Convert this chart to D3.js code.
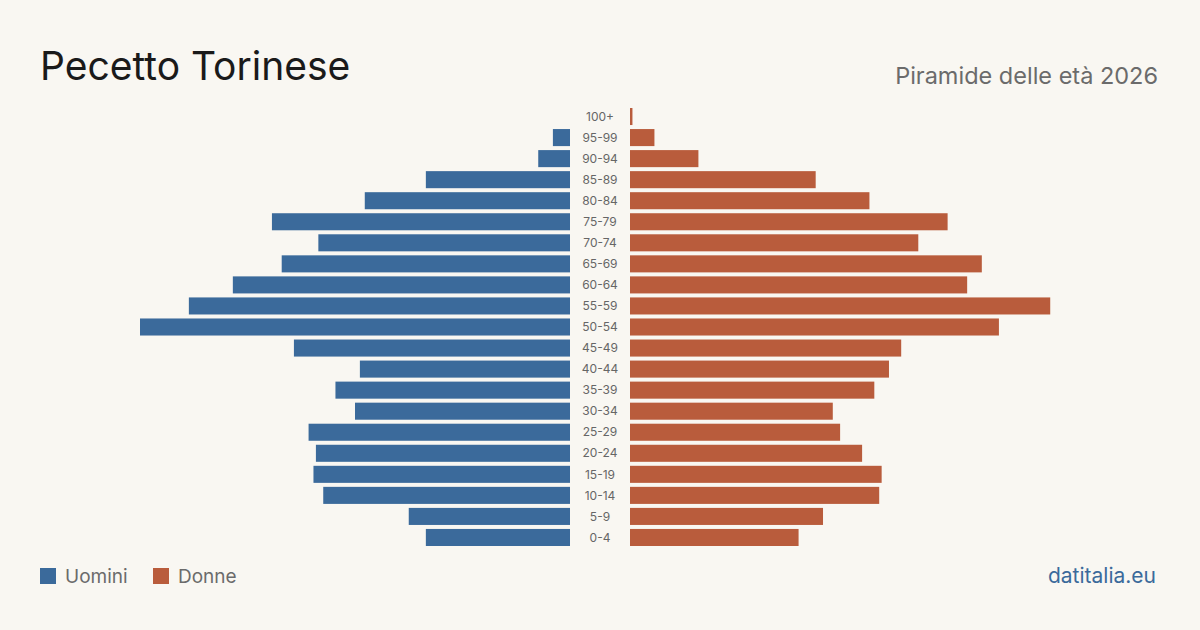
<!DOCTYPE html>
<html><head><meta charset="utf-8">
<script src="https://cdn.jsdelivr.net/npm/d3@7"></script>
<style>
html,body{margin:0;padding:0;background:#f9f7f2;}
svg{display:block;font-family:Inter,"Noto Sans",sans-serif;}
</style></head><body>
<svg id="chart" width="1200" height="630"></svg>
<script>
const ageGroups = ["100+","95-99","90-94","85-89","80-84","75-79","70-74","65-69","60-64","55-59","50-54","45-49","40-44","35-39","30-34","25-29","20-24","15-19","10-14","5-9","0-4"];
const men   = [0, 7, 13, 59, 84, 122, 103, 118, 138, 156, 176, 113, 86, 96, 88, 107, 104, 105, 101, 66, 59];
const women = [1, 10, 28, 76, 98, 130, 118, 144, 138, 172, 151, 111, 106, 100, 83, 86, 95, 103, 102, 79, 69];
const legendLabels = ["Uomini","Donne"];
const colors = ["#3b6a9b","#b95c3c"];

const svg = d3.select("#chart");
svg.append("rect").attr("width",1200).attr("height",630).attr("fill","#f9f7f2");

const maxV = d3.max(men.concat(women));
const xL = d3.scaleLinear().domain([0,maxV]).range([570,140]);
const xR = d3.scaleLinear().domain([0,maxV]).range([630,1060]);
const y = d3.scaleBand().domain(ageGroups).range([106,548]).paddingInner(0.19).paddingOuter(0.095);

svg.append("g").selectAll("rect").data(ageGroups).join("rect")
  .attr("x",(d,i)=>xL(men[i])).attr("width",(d,i)=>xL(0)-xL(men[i]))
  .attr("y",d=>y(d)).attr("height",y.bandwidth()).attr("fill",colors[0]);
svg.append("g").selectAll("rect").data(ageGroups).join("rect")
  .attr("x",xR(0)).attr("width",(d,i)=>xR(women[i])-xR(0))
  .attr("y",d=>y(d)).attr("height",y.bandwidth()).attr("fill",colors[1]);

svg.append("g").selectAll("text").data(ageGroups).join("text")
  .attr("x",600).attr("y",d=>y(d)+y.bandwidth()/2).attr("dy","0.35em")
  .attr("text-anchor","middle").attr("font-size",12).attr("fill","#666").text(d=>d);

svg.append("text").attr("x",40).attr("y",80).attr("font-size",39).attr("fill","#1a1a1a").text("Pecetto Torinese");
svg.append("text").attr("x",1158).attr("y",84).attr("text-anchor","end").attr("font-size",23.5).attr("fill","#6b6b6b").text("Piramide delle età 2026");

const lg = svg.append("g");
const lx = [40,153];
legendLabels.forEach((t,i)=>{
  lg.append("rect").attr("x",lx[i]).attr("y",568).attr("width",16).attr("height",16).attr("fill",colors[i]);
  lg.append("text").attr("x",lx[i]+25).attr("y",583).attr("font-size",19).attr("fill","#6b6b6b").text(t);
});
svg.append("text").attr("x",1156).attr("y",583).attr("text-anchor","end").attr("font-size",21).attr("fill","#3b6a9b").text("datitalia.eu");
</script></body></html>
